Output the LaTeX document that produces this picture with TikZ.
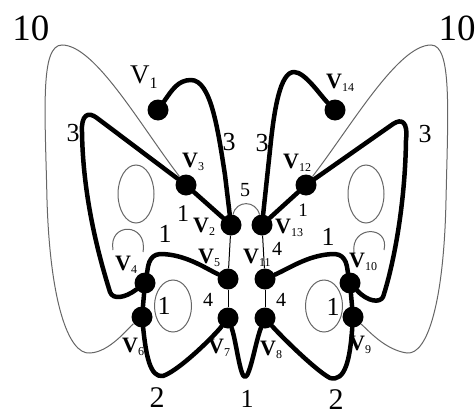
\documentclass[tikz,border=0pt]{standalone}
\usepackage{fontspec}
\setmainfont{Liberation Serif}
\newcommand{\vlab}[1]{{\fontsize{22}{22}\selectfont\textbf{V}}\raisebox{-3pt}{\fontsize{12}{12}\selectfont #1}}
\begin{document}
\begin{tikzpicture}[x=1pt,y=-1pt,
  dot/.style={circle,fill=black,minimum size=21pt,inner sep=0pt},
  heavy/.style={line width=4.5pt,line join=round,line cap=round},
  thinblack/.style={line width=1pt},
  thingray/.style={line width=1pt,draw=black!60},
  num/.style={font=\fontsize{26}{26}\selectfont,inner sep=0pt},
  smallnum/.style={font=\fontsize{20}{20}\selectfont,inner sep=0pt},
  vname/.style={anchor=base west,inner sep=0pt}]
\useasboundingbox (0,0) rectangle (476,415);
% vertices
\node[dot] (v1) at (158,110) {};
\node[dot] (v14) at (335,110) {};
\node[dot] (v3) at (186,185) {};
\node[dot] (v12) at (306,185) {};
\node[dot] (v2) at (231,225) {};
\node[dot] (v13) at (262,225) {};
\node[dot] (v5) at (228,279) {};
\node[dot] (v11) at (265,279) {};
\node[dot] (v4) at (145,283) {};
\node[dot] (v10) at (350,283) {};
\node[dot] (v6) at (142,317) {};
\node[dot] (v9) at (353,317) {};
\node[dot] (v7) at (228,318) {};
\node[dot] (v8) at (265,318) {};
% gray thin curves
\draw[thingray] (v3) .. controls (140,125) and (95,45) .. (62,45) .. controls (40,45) and (45,110) .. (47,200) .. controls (50,300) and (68,355) .. (90,353) .. controls (110,352) and (128,328) .. (v6);
\draw[thingray] (v12) .. controls (352,125) and (398,45) .. (431,45) .. controls (452,45) and (448,110) .. (446,200) .. controls (444,300) and (428,355) .. (407,353) .. controls (385,350) and (368,330) .. (v9);
\draw[thingray] (v2) .. controls (236,200) and (256,200) .. (v13);
\draw[thingray] (113,250) .. controls (108,222) and (148,222) .. (143,252);
\draw[thingray] (354,253) .. controls (350,225) and (390,225) .. (384,250);
\draw[thingray] (136,194) ellipse [x radius=18pt, y radius=29pt];
\draw[thingray] (366,194) ellipse [x radius=18pt, y radius=29pt];
\draw[thingray] (173,306) ellipse [x radius=18.5pt, y radius=26pt];
\draw[thingray] (324,306) ellipse [x radius=18.5pt, y radius=26pt];
% thin black
\draw[thinblack] (v2) -- (v5);
\draw[thinblack] (v5) -- (v7);
\draw[thinblack] (v13) -- (v11);
\draw[thinblack] (v11) -- (v8);
% heavy edges
\draw[heavy] (v1) .. controls (172,90) and (178,80) .. (191,80) .. controls (211,80) and (218,130) .. (225,175) -- (v2);
\draw[heavy] (v14) .. controls (320,95) and (305,72) .. (294,72) .. controls (280,72) and (274,110) .. (270,150) -- (v13);
\draw[heavy] (v2) -- (v3);
\draw[heavy] (v3) -- (97,118) .. controls (88,111) and (81,115) .. (82,132) .. controls (83,200) and (100,260) .. (110,292) .. controls (113,300) and (125,298) .. (v4);
\draw[heavy] (v13) -- (v12);
\draw[heavy] (v12) -- (393,124) .. controls (402,118) and (408,122) .. (406,140) .. controls (405,210) and (392,270) .. (383,297) .. controls (380,303) and (368,302) .. (v10);
\draw[heavy] (v4) .. controls (148,268) and (148,255) .. (160,254) .. controls (185,254) and (205,268) .. (v5);
\draw[heavy] (v10) .. controls (347,268) and (347,255) .. (335,254) .. controls (310,254) and (290,268) .. (v11);
\draw[heavy] (v6) .. controls (146,355) and (150,378) .. (163,376) .. controls (180,370) and (215,335) .. (v7);
\draw[heavy] (v7) .. controls (236,340) and (240,377) .. (245,377) .. controls (250,377) and (256,340) .. (v8);
\draw[heavy] (v8) .. controls (280,335) and (315,370) .. (330,378) .. controls (345,382) and (350,360) .. (v9);
\draw[heavy] (v4) -- (v6);
\draw[heavy] (v10) -- (v9);
% weights
\node[font=\fontsize{37}{37}\selectfont,inner sep=0pt] (w10a) at (31,28) {10};
\node[font=\fontsize{37}{37}\selectfont,inner sep=0pt] (w10b) at (457,28) {10};
\node[num] (w3a) at (73,133) {3};
\node[num] (w3b) at (229,142) {3};
\node[num] (w3c) at (262,143) {3};
\node[num] (w3d) at (425,134) {3};
\node[smallnum] (w5) at (245,190) {5};
\node[num,font=\fontsize{24}{24}\selectfont] (w1a) at (183,214) {1};
\node[smallnum,font=\fontsize{19}{19}\selectfont] (w1b) at (303,210) {1};
\node[num] (w1c) at (165,234) {1};
\node[num] (w1d) at (328,237) {1};
\node[num] (w1e) at (164,306) {1};
\node[num] (w1f) at (333,307) {1};
\node[num] (w1g) at (247,399) {1};
\node[num,font=\fontsize{30}{30}\selectfont] (w2a) at (157,398) {2};
\node[num,font=\fontsize{30}{30}\selectfont] (w2b) at (336,400) {2};
\node[smallnum] (w4a) at (208,300) {4};
\node[smallnum] (w4b) at (281,300) {4};
\node[smallnum] (w4c) at (277,249) {4};
% vertex names
\node[vname] (l1) at (130,83) {{\fontsize{27}{27}\selectfont V}\raisebox{-5pt}{\fontsize{16}{16}\selectfont 1}};
\node[vname] (l14) at (326,88) {\vlab{14}};
\node[vname] (l3) at (182,167) {\vlab{3}};
\node[vname] (l12) at (283,168) {\vlab{12}};
\node[vname] (l2) at (193,232) {\vlab{2}};
\node[vname] (l13) at (275,233) {\vlab{13}};
\node[vname] (l5) at (198,263) {\vlab{5}};
\node[vname] (l11) at (243,263) {\vlab{11}};
\node[vname] (l4) at (115,270) {\vlab{4}};
\node[vname] (l10) at (349,267) {\vlab{10}};
\node[vname] (l6) at (122,352) {\vlab{6}};
\node[vname] (l7) at (208,353) {\vlab{7}};
\node[vname] (l8) at (260,355) {\vlab{8}};
\node[vname] (l9) at (349,350) {\vlab{9}};
\end{tikzpicture}
\end{document}
